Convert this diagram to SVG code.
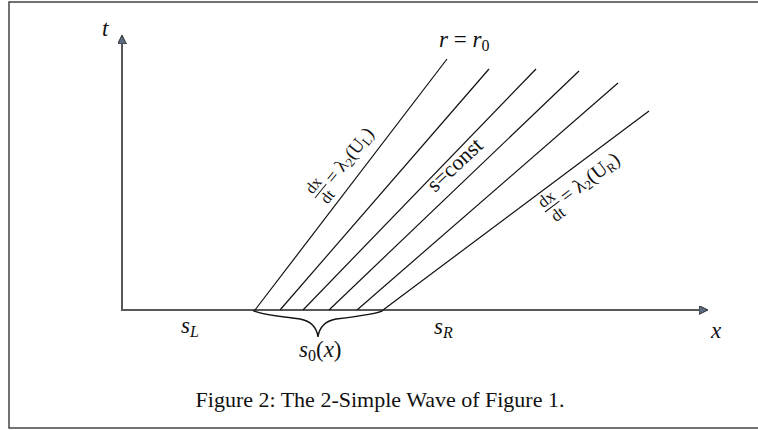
<svg xmlns="http://www.w3.org/2000/svg" width="758" height="430" viewBox="0 0 758 430">
<style>
.frame{fill:none;stroke:#444;stroke-width:1.5}
.axis{stroke:#585858;stroke-width:2;fill:none}
.char{stroke:#111;stroke-width:1.2;fill:none}
.brace{stroke:#111;stroke-width:1.4;fill:none}
.m{font-family:"Liberation Serif","DejaVu Serif",serif;font-style:italic;fill:#111}
.r{font-family:"Liberation Serif","DejaVu Serif",serif;fill:#111}
.bar{stroke:#111;stroke-width:1}
</style>
<defs>
<marker id="arr" viewBox="0 0 10 10" refX="9" refY="5" markerWidth="9" markerHeight="9" markerUnits="userSpaceOnUse" orient="auto">
<path d="M0,0 L10,5 L0,10 Z" fill="#5b6b82" stroke="#222" stroke-width="1"/>
</marker>
</defs>
<rect class="frame" x="9" y="2" width="760" height="426"/>
<g id="axes">
<line class="axis" x1="122" y1="310" x2="122" y2="36" marker-end="url(#arr)"/>
<line class="axis" x1="121" y1="310" x2="707" y2="310" marker-end="url(#arr)"/>
<text class="m" x="102" y="36" font-size="23">t</text>
<text class="m" x="711" y="338" font-size="23">x</text>
</g>
<g id="characteristics">
<line class="char" x1="255" y1="310" x2="447" y2="59"/>
<line class="char" x1="280" y1="310" x2="489" y2="69"/>
<line class="char" x1="303" y1="310" x2="536" y2="69"/>
<line class="char" x1="329" y1="310" x2="579" y2="71"/>
<line class="char" x1="357" y1="310" x2="618" y2="83"/>
<line class="char" x1="383" y1="310" x2="649" y2="111"/>
</g>
<g id="brace">
<path class="brace" d="M253,310.5 Q258,314 300,319 Q316,322 318,337 Q320,322 336,319 Q378,314 383,310.5"/>
</g>
<g id="labels">
<text class="m" x="439" y="47" font-size="23">r <tspan class="r" font-style="normal">=</tspan> r<tspan class="r" font-style="normal" font-size="16" dy="4">0</tspan></text>
<text class="m" x="181" y="333" font-size="23">s<tspan font-size="16" dy="4">L</tspan></text>
<text class="m" x="434" y="334" font-size="23">s<tspan font-size="16" dy="4">R</tspan></text>
<text class="m" x="299" y="357" font-size="23">s<tspan class="r" font-style="normal" font-size="16" dy="4">0</tspan><tspan class="r" font-style="normal" dy="-4">(</tspan>x<tspan class="r" font-style="normal">)</tspan></text>
<g id="lbl-left" transform="translate(315,198) rotate(-51)">
<text class="r" x="9" y="-4" font-size="16" text-anchor="middle">dx</text>
<line class="bar" x1="0" y1="0" x2="18" y2="0"/>
<text class="r" x="9" y="14" font-size="16" text-anchor="middle">dt</text>
<text class="r" x="22" y="6" font-size="19">= λ<tspan font-size="13" dy="3">2</tspan><tspan dy="-3">(U</tspan><tspan font-size="13" dy="3">L</tspan><tspan dy="-3">)</tspan></text>
</g>
<g id="lbl-mid" transform="translate(435,193) rotate(-43)">
<text class="r" x="0" y="0" font-size="22">s=const</text>
</g>
<g id="lbl-right" transform="translate(545,212) rotate(-37)">
<text class="r" x="9" y="-4" font-size="17" text-anchor="middle">dx</text>
<line class="bar" x1="0" y1="0" x2="18" y2="0"/>
<text class="r" x="9" y="15" font-size="17" text-anchor="middle">dt</text>
<text class="r" x="22" y="6" font-size="20">= λ<tspan font-size="13" dy="3">2</tspan><tspan dy="-3">(U</tspan><tspan font-size="13" dy="3">R</tspan><tspan dy="-3">)</tspan></text>
</g>
<text class="r" x="380" y="407" font-size="22" text-anchor="middle">Figure 2: The 2-Simple Wave of Figure 1.</text>
</g>
</svg>
